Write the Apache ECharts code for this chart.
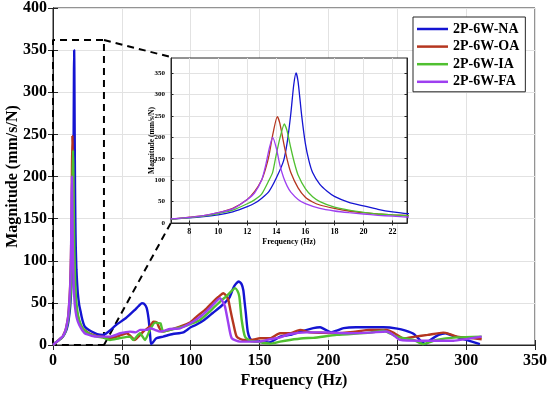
<!DOCTYPE html>
<html><head><meta charset="utf-8">
<script src="https://cdn.jsdelivr.net/npm/echarts@6/dist/echarts.min.js"></script>
<style>html,body{margin:0;padding:0;background:#fff}#c{width:550px;height:393px}</style>
</head><body><div id="c"></div>
<script>
const seriesNames = ['2P-6W-NA','2P-6W-OA','2P-6W-IA','2P-6W-FA'];
const insetXTicks = [8,10,12,14,16,18,20,22];
const insetYTicks = [0,50,100,150,200,250,300,350];

const naFreq = [0,2,4,6,7,8,9,10,11,12,12.5,13,13.5,14,14.5,14.75,15,15.2,15.36,15.5,15.75,16,16.25,16.5,17,17.5,18,19,20,21,22,23,25,28,32,36,40,46,53,59,62,64.5,66,68,69.5,70.5,71.2,72.5,75,80,87,94.6,100,104,110,116,122,128,131,133,135,137,138.2,139.2,140,141.4,143,145,150,157,165,172,180,189,194,198,202,206,211,220,230,240,250,256,262,267,270.5,274,280,285,290,300,310];
const naMag  = [0,3,5.5,8,9.5,12,15,19,26,38,46,58,74,105,145,188,255,322,350,330,250,186,145,118,90,74,62,48,40,32,26,22,19,16,13,12,15.5,24,32,41,46,49.6,49,44,30,12,1,3,8,10,13,15,21,24,30,38,46,56,68,73,75.4,72,65,50,38,16,8,5,4,3,10,12,16,20,21,18,15,17,20,21,21,21,19.5,17,13,5,1,6,12,14,11,6,1];

const oaFreq = [0,2,4,6,7,8,9,10,11,12,12.5,13,13.25,13.5,13.75,14.07,14.25,14.5,14.75,15,15.5,16,16.5,17,18,19,20,21,22,23,25,28,32,36,41.4,48,53.5,56,59.5,62,65.6,70.4,72.9,75.3,77,79,85,92.2,99.5,104.3,110,116.4,120,123.7,125.5,127.3,129,130.9,133.4,138.2,144,150.3,157.6,164.8,172,179.4,186.6,195,206,218,230.2,242.3,248,254.4,263,272,283.4,288,293.2,300,311.3];
const oaMag  = [0,3,5.5,8.5,10,13.5,17,24,34,55,73,101,125,158,205,248,232,188,148,118,82,60,49,42,34,28,24,21,19,17.5,15,12.5,10.5,9.5,8,11,14,11,6,10,16,22,27.8,27,21,16,18,21.8,26.6,33.7,41,51.6,57,61.5,59,53.6,40,25.8,10,6,6,8,8,14,14,17.9,15,14.5,14,15.5,17.9,17.9,14,8,10,12,14.7,13,10,9,6.8];

const iaFreq = [0,2,4,6,7,8,9,10,11,12,12.5,13,13.5,13.75,14,14.25,14.55,14.75,15,15.25,15.5,16,16.5,17,18,19,20,21,22,23,25,28,32,36,41.4,48,55.9,58.3,63.2,66.8,70.4,74.1,76.5,78,80.1,84.9,94.6,100,106.8,114,121.3,126,129,132.2,134,135.3,137,139.4,143,147.9,157.6,164.8,172,181.8,189,206,230.2,239.9,249.6,261.7,268.9,278.6,293.2,311.3];
const iaMag  = [0,3,5.5,8,9.5,12.5,16,22,30,45,54,68,100,118,160,198,231,214,175,140,112,80,61,50,37,30,25,21,19,17,14.5,12,10,9,6,8,10,6,13.9,6,17.9,26.6,26,25.8,15.9,17.9,21.8,25,29.8,40,51.6,58,63,67.5,64,57.5,30,10,5,4,1.5,4,6,8,8.5,12,14.7,17,10,6,1,6,9,10];

const faFreq = [0,2,4,6,7,8,9,10,11,12,12.5,13,13.25,13.5,13.75,14,14.25,14.5,14.75,15,15.5,16,17,18,19,20,21,22,23,25,28,32,36,41.4,48.7,55.9,60,63.2,68,70.5,74,77.7,85,92.2,101.9,108,114,118,121.3,123,124.9,127.3,129.8,135.8,150.3,158,165,172,184,195,201.2,215,230,242.3,247,252,266.5,280,290.7,300,311.3];
const faMag  = [0,3,5.5,8.5,10,13,17,24,33,55,70,101,132,172,200,175,135,106,86,72,55,45,34,28,24,21,18,16,14,12.5,11,10,10,10,13.9,15.9,15,17.9,18,19.8,18,15.9,19,19.8,28,35,44,51,55.6,52,45.6,25.8,8,4,4,7,9,13,15,15,14.7,14,14.7,16,12,6,5,5,5,7,10];

// zoom annotation (main-axis units)
const zoomBoxF = [0,0,37,37,0];
const zoomBoxM = [0,362,362,0,0];
const connTopF = [37,85.7], connTopM = [362,341.7];
const connBotF = [37,85.7], connBotM = [0,145.2];

const colors = ['#1414D2','#B5361F','#50C030','#9E3FF0'];
const serif = '"Liberation Serif","Times New Roman",serif';
const allF = [naFreq,oaFreq,iaFreq,faFreq];
const allM = [naMag,oaMag,iaMag,faMag];
const pairs = (f,m)=>f.map((v,i)=>[v,m[i]]);
const axCol = '#262626';
const gridCol = '#e2e2e2';

const series = [];
seriesNames.forEach((n,i)=>{
  series.push({type:'line', name:n, xAxisIndex:0, yAxisIndex:0, data:pairs(allF[i],allM[i]),
    symbol:'none', smooth:0.2, lineStyle:{color:colors[i], width:2.4}, itemStyle:{color:colors[i]}, z:3, silent:true});
});
seriesNames.forEach((n,i)=>{
  series.push({type:'line', name:n, xAxisIndex:2, yAxisIndex:2, data:pairs(allF[i],allM[i]),
    symbol:'none', smooth:0.2, lineStyle:{color:colors[i], width:1.3}, itemStyle:{color:colors[i]}, z:8, silent:true});
});
const dash = {type:[7,5], color:'#000', width:2};
series.push({type:'line', xAxisIndex:0, yAxisIndex:0, data:pairs(zoomBoxF,zoomBoxM), symbol:'none', lineStyle:dash, z:2, silent:true});
series.push({type:'line', xAxisIndex:0, yAxisIndex:0, data:pairs(connTopF,connTopM), symbol:'none', lineStyle:dash, z:2, silent:true});
series.push({type:'line', xAxisIndex:0, yAxisIndex:0, data:pairs(connBotF,connBotM), symbol:'none', lineStyle:dash, z:2, silent:true});

const bigLbl = {fontFamily:serif, fontWeight:'bold', fontSize:16, color:'#000'};
const smallLbl = {fontFamily:serif, fontWeight:'bold', fontSize:8, color:'#000'};

const option = {
  animation:false,
  backgroundColor:'#fff',
  grid:[
    {left:53, top:8, width:482, height:337, show:true, borderColor:axCol, borderWidth:1, backgroundColor:'#fff', z:0, containLabel:false, outerBoundsMode:'none'},
    {left:171, top:58, width:236, height:165, show:true, borderColor:axCol, borderWidth:1, backgroundColor:'#fff', z:5, containLabel:false, outerBoundsMode:'none'}
  ],
  xAxis:[
    {gridIndex:0, type:'value', min:0, max:350, interval:50, position:'bottom',
     axisLine:{show:true, lineStyle:{color:axCol, width:1}}, axisTick:{show:true, inside:true, length:5, lineStyle:{color:axCol}},
     axisLabel:Object.assign({margin:8}, bigLbl), splitLine:{show:true, lineStyle:{color:gridCol}},
     name:'Frequency (Hz)', nameLocation:'middle', nameGap:28, nameMoveOverlap:false, nameTextStyle:bigLbl},
    {gridIndex:0, type:'value', min:0, max:350, interval:50, position:'top',
     axisLine:{show:true, lineStyle:{color:axCol}}, axisTick:{show:true, inside:true, length:5, lineStyle:{color:axCol}},
     axisLabel:{show:false}, splitLine:{show:false}},
    {gridIndex:1, type:'value', min:6.75, max:23, position:'bottom', z:6,
     axisLine:{show:true, lineStyle:{color:axCol}}, axisTick:{show:true, inside:true, length:2.5, customValues:insetXTicks, lineStyle:{color:axCol}},
     axisLabel:Object.assign({margin:5, customValues:insetXTicks}, smallLbl), splitLine:{show:true, lineStyle:{color:gridCol}},
     name:'Frequency (Hz)', nameLocation:'middle', nameGap:15, nameMoveOverlap:false, nameTextStyle:smallLbl},
    {gridIndex:1, type:'value', min:6.75, max:23, position:'top', z:6,
     axisLine:{show:true, lineStyle:{color:axCol}}, axisTick:{show:true, inside:true, length:2.5, customValues:insetXTicks, lineStyle:{color:axCol}},
     axisLabel:{show:false}, splitLine:{show:false}}
  ],
  yAxis:[
    {gridIndex:0, type:'value', min:0, max:400, interval:50, position:'left',
     axisLine:{show:true, lineStyle:{color:axCol, width:1}}, axisTick:{show:true, inside:true, length:5, lineStyle:{color:axCol}},
     axisLabel:Object.assign({margin:6}, bigLbl), splitLine:{show:true, lineStyle:{color:gridCol}},
     name:'Magnitude (mm/s/N)', nameLocation:'middle', nameGap:32, nameMoveOverlap:false, nameTextStyle:bigLbl},
    {gridIndex:0, type:'value', min:0, max:400, interval:50, position:'right',
     axisLine:{show:true, lineStyle:{color:axCol}}, axisTick:{show:true, inside:true, length:5, lineStyle:{color:axCol}},
     axisLabel:{show:false}, splitLine:{show:false}},
    {gridIndex:1, type:'value', min:0, max:385, position:'left', z:6,
     axisLine:{show:true, lineStyle:{color:axCol}}, axisTick:{show:true, inside:true, length:2.5, customValues:insetYTicks, lineStyle:{color:axCol}},
     axisLabel:Object.assign({margin:6, customValues:insetYTicks}, smallLbl, {fontSize:7}), splitLine:{show:true, lineStyle:{color:gridCol}},
     name:'Magnitude (mm/s/N)', nameLocation:'middle', nameGap:15, nameMoveOverlap:false, nameTextStyle:Object.assign({}, smallLbl, {fontSize:7.5})},
    {gridIndex:1, type:'value', min:0, max:385, position:'right', z:6,
     axisLine:{show:true, lineStyle:{color:axCol}}, axisTick:{show:true, inside:true, length:2.5, customValues:insetYTicks, lineStyle:{color:axCol}},
     axisLabel:{show:false}, splitLine:{show:false}}
  ],
  legend:{
    data:seriesNames.map((n,i)=>({name:n, icon:'rect', itemStyle:{color:colors[i]}})),
    orient:'vertical', left:413, top:17, itemWidth:31, itemHeight:2.5, itemGap:3.6,
    padding:[5,6,3,4], backgroundColor:'#fff', borderColor:axCol, borderWidth:1,
    textStyle:{fontFamily:serif, fontWeight:'bold', fontSize:14, color:'#000'},
    selectedMode:false, z:10
  },
  series:series
};
const chart = echarts.init(document.getElementById('c'), null, {renderer:'canvas'});
chart.setOption(option);
</script>
</body></html>
